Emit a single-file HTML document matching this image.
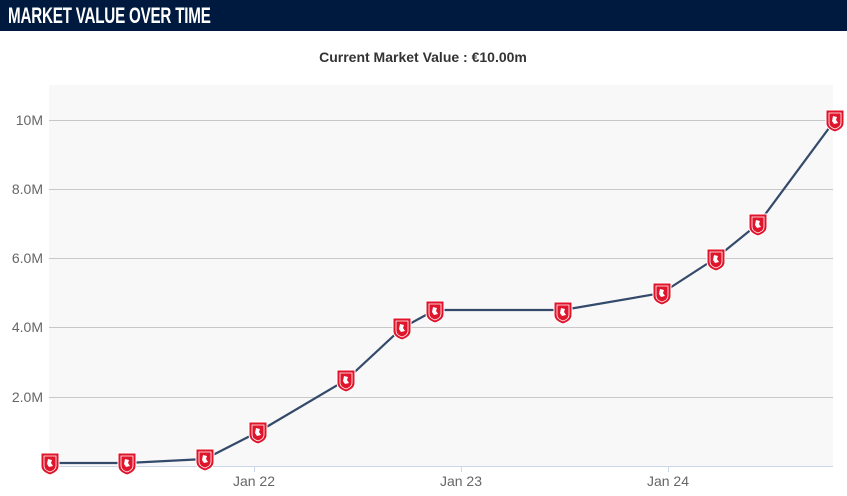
<!DOCTYPE html>
<html><head><meta charset="utf-8"><style>
body{margin:0;width:847px;height:496px;background:#fff;overflow:hidden;font-family:"Liberation Sans",sans-serif}
.hdr{position:absolute;left:0;top:0;width:847px;height:31px;background:#001a3f}
.hdr span{position:absolute;left:8px;top:3px;color:#fff;font-family:"Liberation Sans",sans-serif;font-size:22px;font-weight:bold;letter-spacing:-0.3px;transform:scaleX(0.69);transform-origin:0 0;white-space:nowrap}
</style></head><body>
<div class="hdr"><span>MARKET VALUE OVER TIME</span></div>
<svg width="847" height="496" style="position:absolute;left:0;top:0">
<defs>
<g id="m">
<path d="M-9,-10 L9,-10 L9,3 Q9,9 0,12 Q-9,9 -9,3 Z" fill="#e0142b" stroke="#fff" stroke-width="1"/>
<path d="M-6,-7 L6,-7 L6,3 Q6,7 0,9 Q-6,7 -6,3 Z" fill="none" stroke="#fff" stroke-width="0.8"/>
<path d="M-2,-4 L2,-3 L1,0 L3,3 L-1,4 L-3,1 Z" fill="#fff"/>
</g>
</defs>
<text x="423" y="62" text-anchor="middle" font-size="14" font-weight="bold" fill="#333">Current Market Value : €10.00m</text>
<rect x="49" y="85" width="784" height="381" fill="#f8f8f8"/>
<g stroke="#c8c8c8" stroke-width="1">
<line x1="49" x2="833" y1="120.5" y2="120.5"/>
<line x1="49" x2="833" y1="189.5" y2="189.5"/>
<line x1="49" x2="833" y1="258.5" y2="258.5"/>
<line x1="49" x2="833" y1="327.5" y2="327.5"/>
<line x1="49" x2="833" y1="397.5" y2="397.5"/>
</g>
<line x1="49" x2="833" y1="466.5" y2="466.5" stroke="#ccd6eb"/>
<g stroke="#ccd6eb"><line x1="254.5" x2="254.5" y1="466" y2="472"/><line x1="461.5" x2="461.5" y1="466" y2="472"/><line x1="668.5" x2="668.5" y1="466" y2="472"/></g>
<g font-size="14" fill="#666" text-anchor="end">
<text x="43" y="125">10M</text><text x="43" y="194">8.0M</text><text x="43" y="263">6.0M</text><text x="43" y="332">4.0M</text><text x="43" y="402">2.0M</text>
</g>
<g font-size="14" fill="#666" text-anchor="middle">
<text x="254" y="486">Jan 22</text><text x="461" y="486">Jan 23</text><text x="668" y="486">Jan 24</text>
</g>
<polyline fill="none" stroke="#344a6b" stroke-width="2.2" points="50,463 127,463 205,459 258,432 346,380 402,328 435,310 563,310 662,293 716,258 758,224 835,120"/>
<use href="#m" x="50" y="463"/><use href="#m" x="127" y="463"/><use href="#m" x="205" y="459"/><use href="#m" x="258" y="432"/><use href="#m" x="346" y="380"/><use href="#m" x="402" y="328"/><use href="#m" x="435" y="311"/><use href="#m" x="563" y="312"/><use href="#m" x="662" y="293"/><use href="#m" x="716" y="259"/><use href="#m" x="758" y="224"/><use href="#m" x="835" y="120"/>
</svg>
</body></html>
